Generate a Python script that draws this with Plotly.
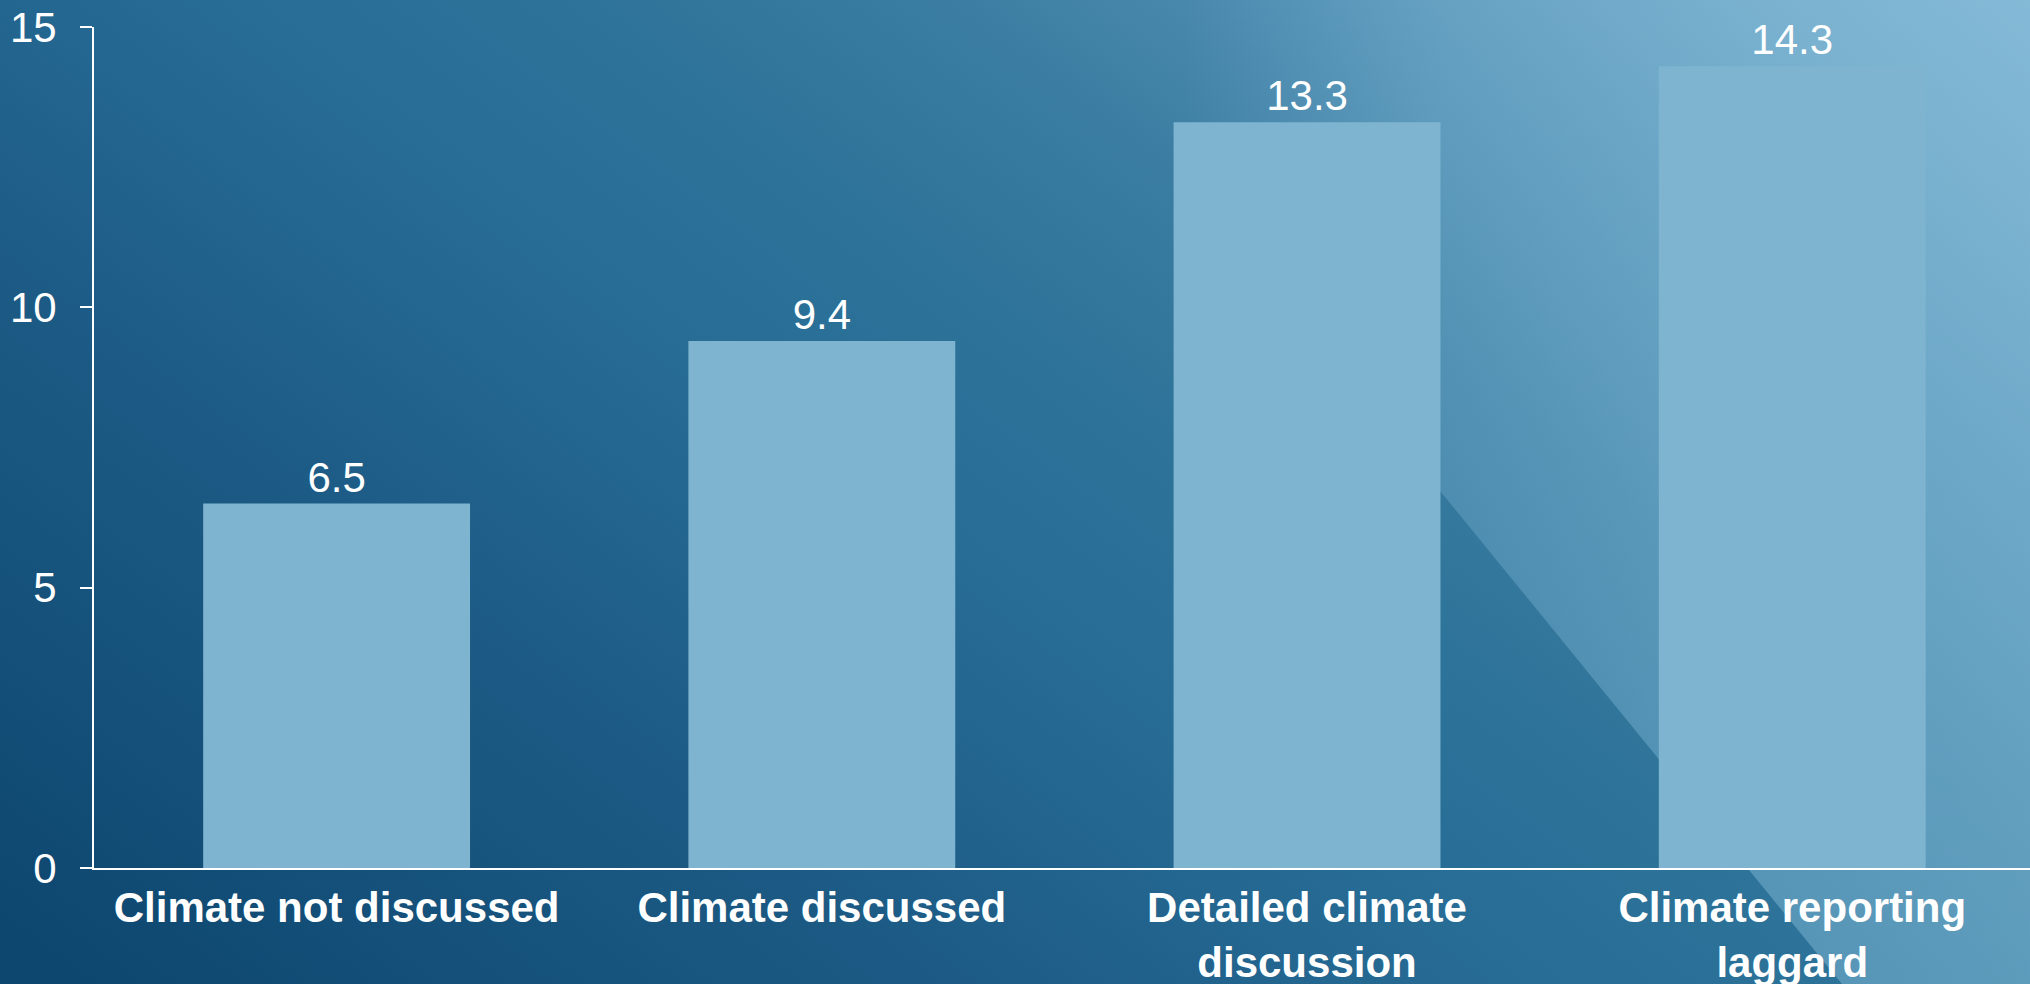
import base64
import plotly.graph_objects as go

# Chart data
categories = [
    "Climate not discussed",
    "Climate discussed",
    "Detailed climate<br>discussion",
    "Climate reporting<br>laggard",
]
values = [6.5, 9.4, 13.3, 14.3]
y_ticks = [0, 5, 10, 15]

W, H = 2030, 984
M_L, M_R, M_T, M_B = 94, 0, 27, 116
BAR_COLOR = "rgb(126,180,207)"
FONT = "Liberation Sans, Arial, sans-serif"

# Slide-style backdrop: diagonal blue gradient with a lighter translucent panel
backdrop_svg = f"""<svg xmlns="http://www.w3.org/2000/svg" width="{W}" height="{H}" viewBox="0 0 {W} {H}" preserveAspectRatio="none">
<defs>
<linearGradient id="base" gradientUnits="userSpaceOnUse" x1="0" y1="{H}" x2="1203" y2="-620">
<stop offset="0" stop-color="#0c456e"/>
<stop offset="0.30" stop-color="#1d5c86"/>
<stop offset="0.45" stop-color="#276c95"/>
<stop offset="0.57" stop-color="#2e7399"/>
<stop offset="0.68" stop-color="#3c7ea3"/>
<stop offset="0.80" stop-color="#5290b4"/>
<stop offset="1" stop-color="#7cb1cf"/>
</linearGradient>
<linearGradient id="panel" gradientUnits="userSpaceOnUse" x1="1180" y1="0" x2="{W}" y2="0">
<stop offset="0" stop-color="#8cc3de" stop-opacity="0"/>
<stop offset="0.31" stop-color="#8cc3de" stop-opacity="0.28"/>
<stop offset="0.68" stop-color="#8cc3de" stop-opacity="0.43"/>
<stop offset="1" stop-color="#8cc3de" stop-opacity="0.48"/>
</linearGradient>
</defs>
<rect x="0" y="0" width="{W}" height="{H}" fill="url(#base)"/>
<polygon points="1040,0 1842,{H} {W},{H} {W},0" fill="url(#panel)"/>
</svg>"""
backdrop_uri = "data:image/svg+xml;base64," + base64.b64encode(backdrop_svg.encode()).decode()

plot_w = W - M_L - M_R
plot_h = H - M_T - M_B

fig = go.Figure(
    go.Bar(
        x=categories,
        y=values,
        width=0.55,
        marker=dict(color=BAR_COLOR, line=dict(width=0)),
        text=values,
        texttemplate="%{y:.1f}",
        textposition="outside",
        textfont=dict(family=FONT, size=42, color="white"),
        cliponaxis=False,
        hoverinfo="skip",
    )
)

fig.update_layout(
    width=W,
    height=H,
    margin=dict(l=M_L, r=M_R, t=M_T, b=M_B, pad=0, autoexpand=False),
    paper_bgcolor="rgba(0,0,0,0)",
    plot_bgcolor="rgba(0,0,0,0)",
    showlegend=False,
    font=dict(family=FONT, color="white"),
    images=[
        dict(
            source=backdrop_uri,
            xref="paper",
            yref="paper",
            x=-M_L / plot_w,
            y=1 + M_T / plot_h,
            sizex=W / plot_w,
            sizey=H / plot_h,
            xanchor="left",
            yanchor="top",
            sizing="stretch",
            layer="below",
        )
    ],
)

fig.update_xaxes(
    range=[-0.5, 3.49],
    automargin=False,
    showline=True,
    linecolor="white",
    linewidth=2,
    ticks="",
    showgrid=False,
    zeroline=False,
    tickfont=dict(family=FONT, size=42, color="white", weight="bold"),
    ticklabelstandoff=2,
)

fig.update_yaxes(
    range=[0, 15],
    automargin=False,
    tickvals=y_ticks,
    ticktext=[str(v) for v in y_ticks],
    showline=True,
    linecolor="white",
    linewidth=2,
    ticks="outside",
    ticklen=12,
    tickwidth=2,
    tickcolor="white",
    showgrid=False,
    zeroline=False,
    tickfont=dict(family=FONT, size=42, color="white"),
    ticklabelstandoff=15,
)

fig.write_html("out.html", config={"displayModeBar": False})
